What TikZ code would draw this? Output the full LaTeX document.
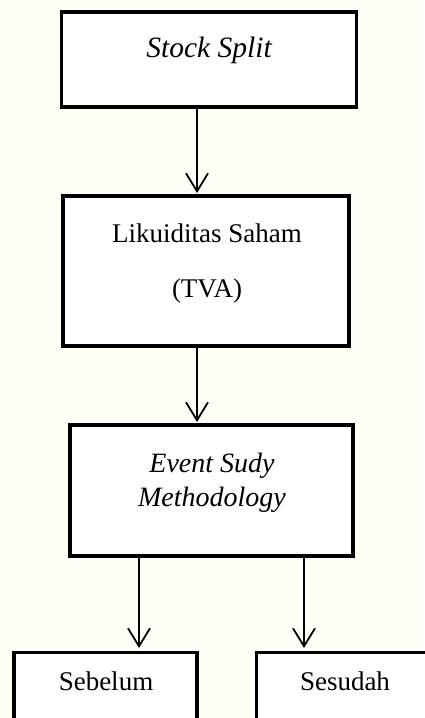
\documentclass[tikz,border=0pt]{standalone}
\usepackage{fontspec}
\setmainfont{Liberation Serif}
\usetikzlibrary{arrows.meta}
\begin{document}
\begin{tikzpicture}[x=1pt,y=-1pt,
  box/.style={draw=black, line width=3.4pt, fill=white, inner sep=0pt},
  lbl/.style={font=\fontsize{27}{31}\selectfont, inner sep=0pt, anchor=center},
  conn/.style={line width=1.8pt, -{Straight Barb[length=18pt,width=22pt,line width=1.8pt]}}]
\useasboundingbox (0,0) rectangle (424,718);
\fill[white!97!yellow] (0,0) rectangle (424,718);
% boxes
\node[box, minimum width=295pt, minimum height=95pt] (b1) at (209,59.5) {};
\node[box, minimum width=286pt, minimum height=150pt] (b2) at (206,271) {};
\node[box, minimum width=283pt, minimum height=131pt] (b3) at (211.5,490.5) {};
\node[box, minimum width=183pt, minimum height=110pt, anchor=north] (b4) at (105.5,651) {};
\node[box, minimum width=180pt, minimum height=110pt, anchor=north west] (b5) at (255,651) {};
% texts
\node[lbl, font=\fontsize{29.5}{33}\selectfont] (t1) at (209,50) {\itshape Stock Split};
\node[lbl] (t2) at (207,233) {Likuiditas Saham};
\node[lbl] (t3) at (207,291) {(TVA)};
\node[lbl, font=\fontsize{28}{32}\selectfont] (t4) at (212,466) {\itshape Event Sudy};
\node[lbl, font=\fontsize{28}{32}\selectfont] (t5) at (212,500) {\itshape Methodology};
\node[lbl] (t6) at (106,681) {Sebelum};
\node[lbl] (t7) at (345,681) {Sesudah};
% connectors
\coordinate (a1) at (197,107);
\coordinate (a1e) at (197,193);
\coordinate (a2) at (197,346);
\coordinate (a2e) at (197,422);
\coordinate (a3) at (139,556);
\coordinate (a3e) at (139,648);
\coordinate (a4) at (304,556);
\coordinate (a4e) at (304,648);
\draw[conn] (a1) -- (a1e);
\draw[conn] (a2) -- (a2e);
\draw[conn] (a3) -- (a3e);
\draw[conn] (a4) -- (a4e);
\end{tikzpicture}
\end{document}
